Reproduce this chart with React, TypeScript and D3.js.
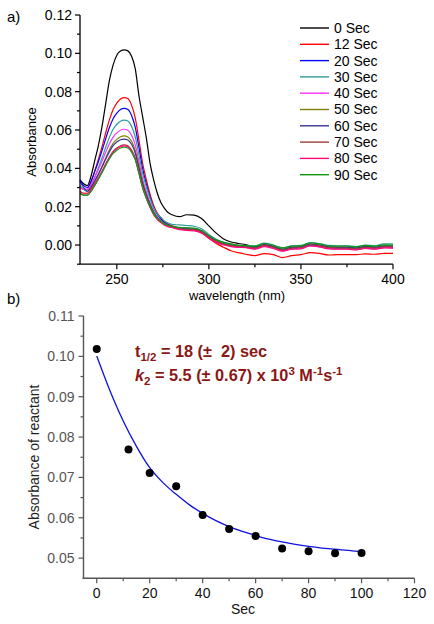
import React from "react";
import * as d3 from "d3";

// ---------- Panel a) UV-vis spectra ----------
const wavelengths = [230,232,234,236,238,240,242,244,246,248,250,252,254,256,258,260,262,264,266,268,270,272,274,276,278,280,284,288,292,296,300,304,308,312,316,320,325,330,335,340,345,350,355,360,365,370,375,380,385,390,395,400];

const sec0 = [.034,.032,.031,.036,.044,.052,.062,.074,.086,.094,.099,.1012,.1018,.1013,.0985,.092,.078,.067,.056,.043,.034,.027,.022,.019,.0168,.0158,.0148,.0158,.0156,.0138,.0100,.0062,.0032,.0016,.0008,.0002,-.0010,.0000,-.0008,-.0022,-.0012,-.0010,.0004,-.0002,-.0010,-.0012,-.0014,-.0016,-.0008,-.0012,-.0006,-.0006];
const sec12 = [.030,.029,.029,.0328,.0386,.0448,.0515,.0587,.0654,.0707,.0740,.0762,.0769,.0764,.0730,.0663,.0549,.0428,.0341,.0267,.0207,.0167,.0143,.0120,.0108,.0100,.0088,.0082,.0078,.0065,.0035,.0008,-.0012,-.0030,-.0040,-.0048,-.0055,-.0045,-.0050,-.0066,-.0055,-.0050,-.0040,-.0044,-.0052,-.0050,-.0050,-.0050,-.0046,-.0048,-.0044,-.0044];
const sec20 = [.034,.031,.030,.0333,.0383,.0436,.0494,.0556,.0614,.0659,.0688,.0707,.0713,.0707,.0676,.0615,.0510,.0399,.0319,.0252,.0196,.0160,.0137,.0116,.0105,.0098,.0090,.0088,.0086,.0074,.0045,.0022,.0008,.0000,-.0008,-.0010,-.0018,-.0006,-.0014,-.0028,-.0018,-.0016,-.0002,-.0008,-.0016,-.0018,-.0018,-.0022,-.0014,-.0018,-.0012,-.0014];
const sec30 = [.031,.029,.028,.0310,.0354,.0403,.0455,.0511,.0563,.0604,.0630,.0646,.0652,.0647,.0619,.0565,.0472,.0375,.0304,.0244,.0195,.0162,.0143,.0124,.0115,.0108,.0105,.0102,.0098,.0085,.0055,.0030,.0015,.0006,.0000,-.0002,-.0004,.0010,.0000,-.0014,-.0004,-.0002,.0013,.0008,-.0002,-.0004,-.0004,-.0008,.0000,-.0004,.0006,.0006];
const sec40 = [.030,.029,.029,.0315,.0353,.0394,.0438,.0485,.0529,.0563,.0585,.0599,.0604,.0599,.0573,.0523,.0436,.0344,.0278,.0222,.0176,.0146,.0128,.0110,.0101,.0095,.0086,.0082,.0080,.0068,.0040,.0018,.0004,-.0004,-.0010,-.0012,-.0020,-.0006,-.0016,-.0030,-.0020,-.0018,-.0003,-.0008,-.0018,-.0020,-.0020,-.0024,-.0016,-.0020,-.0013,-.0014];
const sec50 = [.028,.027,.027,.0294,.0330,.0369,.0411,.0455,.0497,.0530,.0551,.0565,.0569,.0564,.0541,.0493,.0413,.0328,.0267,.0215,.0173,.0144,.0127,.0111,.0103,.0097,.0090,.0087,.0085,.0073,.0046,.0024,.0010,.0002,-.0004,-.0006,-.0014,.0000,-.0010,-.0024,-.0014,-.0012,.0003,-.0002,-.0012,-.0014,-.0014,-.0018,-.0010,-.0014,-.0007,-.0008];
const sec60 = [.033,.030,.028,.0302,.0335,.0370,.0408,.0449,.0487,.0518,.0537,.0549,.0553,.0548,.0526,.0480,.0402,.0320,.0261,.0210,.0169,.0142,.0125,.0110,.0101,.0096,.0088,.0085,.0083,.0071,.0044,.0022,.0008,.0000,-.0006,-.0008,-.0012,.0002,-.0008,-.0022,-.0012,-.0010,.0005,.0000,-.0010,-.0012,-.0012,-.0016,-.0008,-.0012,-.0005,-.0006];
const sec70 = [.027,.026,.026,.0281,.0312,.0346,.0383,.0422,.0459,.0488,.0506,.0518,.0522,.0518,.0496,.0454,.0381,.0304,.0248,.0201,.0162,.0137,.0121,.0107,.0099,.0094,.0085,.0082,.0080,.0068,.0041,.0019,.0005,-.0003,-.0008,-.0010,-.0016,-.0002,-.0012,-.0026,-.0016,-.0014,.0001,-.0004,-.0014,-.0016,-.0016,-.0020,-.0012,-.0016,-.0009,-.0010];
const sec80 = [.028,.027,.027,.0290,.0319,.0352,.0386,.0423,.0458,.0485,.0502,.0513,.0517,.0513,.0491,.0449,.0376,.0299,.0244,.0197,.0158,.0133,.0117,.0103,.0095,.0090,.0080,.0076,.0074,.0062,.0036,.0014,.0000,-.0008,-.0012,-.0014,-.0022,-.0008,-.0018,-.0032,-.0022,-.0020,-.0005,-.0010,-.0020,-.0022,-.0022,-.0026,-.0018,-.0022,-.0015,-.0016];
const sec90 = [.027,.026,.026,.0280,.0310,.0343,.0378,.0415,.0450,.0478,.0495,.0506,.0510,.0506,.0485,.0444,.0374,.0300,.0246,.0201,.0164,.0139,.0124,.0110,.0103,.0098,.0092,.0090,.0088,.0076,.0050,.0027,.0013,.0005,-.0001,-.0003,-.0006,.0008,-.0002,-.0016,-.0006,-.0004,.0011,.0006,-.0004,-.0006,-.0006,-.0010,-.0002,-.0006,.0001,.0000];

const seriesNames = ["0 Sec","12 Sec","20 Sec","30 Sec","40 Sec","50 Sec","60 Sec","70 Sec","80 Sec","90 Sec"];
const seriesColors = ["#000000","#ff0000","#0000ff","#2f9e9a","#ff33ff","#808000","#34349a","#a03c3c","#ff0a78","#119a11"];
const seriesValues = [sec0,sec12,sec20,sec30,sec40,sec50,sec60,sec70,sec80,sec90];

const aXTicks = [250,300,350,400];
const aXMinor = [275,325,375];
const aYTicks = [0,0.02,0.04,0.06,0.08,0.10,0.12];
const aYMinor = [-0.01,0.01,0.03,0.05,0.07,0.09,0.11];

// ---------- Panel b) kinetics ----------
const timeSec = [0,12,20,30,40,50,60,70,80,90,100];
const absReactant = [0.1018,0.0769,0.0711,0.0678,0.0607,0.0572,0.0555,0.0524,0.0517,0.0512,0.0513];
const fitTime = [0,5,10,15,20,25,30,35,40,45,50,55,60,65,70,75,80,85,90,95,100];
const fitAbs = [0.1001,0.0915,0.0840,0.0777,0.0724,0.0687,0.0658,0.0632,0.0611,0.0593,0.0578,0.0566,0.0556,0.0547,0.0540,0.0534,0.0529,0.0525,0.0522,0.0519,0.0516];

const bXTicks = [0,20,40,60,80,100,120];
const bXMinor = [10,30,50,70,90,110];
const bYTicks = [0.05,0.06,0.07,0.08,0.09,0.10,0.11];
const bYMinor = [0.055,0.065,0.075,0.085,0.095,0.105];

const FONT = "'Liberation Sans', Arial, Helvetica, sans-serif";
const DARKRED = "#8b1616";
const NBSP = "\u00a0";

export default function App() {
  // panel a scales
  const ax = d3.scaleLinear().domain([230, 400]).range([80, 393]);
  const ay = d3.scaleLinear().domain([-0.01, 0.12]).range([264.2, 15]);
  const aLine = d3.line<number>()
    .x((_, i) => ax(wavelengths[i]))
    .y((d) => ay(d))
    .curve(d3.curveMonotoneX);

  // panel b scales
  const bx = d3.scaleLinear().domain([-5, 120]).range([83.5, 414.5]);
  const by = d3.scaleLinear().domain([0.045, 0.11]).range([578.3, 316]);
  const fitLine = d3.line<number>()
    .x((_, i) => bx(fitTime[i]))
    .y((d) => by(d))
    .curve(d3.curveMonotoneX);

  const aAxisColor = "#000";
  const bAxisColor = "#555";

  return (
    <svg width={434} height={624} style={{ position: "absolute", left: 0, top: 0, background: "#fff" }} fontFamily={FONT}>
      <rect x={0} y={0} width={434} height={624} fill="#fff" />

      {/* ---------- Panel a ---------- */}
      <text x={7} y={22} fontSize={15} fill="#000">a)</text>
      {seriesValues.map((vals, si) => (
        <path key={si} d={aLine(vals) || ""} fill="none" stroke={seriesColors[si]} strokeWidth={1.2} />
      ))}
      {/* axes */}
      <line x1={ax(230)} x2={ax(230)} y1={ay(0.12)} y2={ay(-0.01)} stroke={aAxisColor} strokeWidth={1.3} />
      <line x1={ax(230)} x2={ax(400)} y1={ay(-0.01)} y2={ay(-0.01)} stroke={aAxisColor} strokeWidth={1.3} />
      {aYTicks.map((t) => (
        <g key={"ay" + t}>
          <line x1={ax(230) - 5} x2={ax(230)} y1={ay(t)} y2={ay(t)} stroke={aAxisColor} strokeWidth={1.2} />
          <text x={ax(230) - 8} y={ay(t)} dy="0.35em" textAnchor="end" fontSize={14} fill="#000">{t.toFixed(2)}</text>
        </g>
      ))}
      {aYMinor.map((t) => (
        <line key={"aym" + t} x1={ax(230) - 3} x2={ax(230)} y1={ay(t)} y2={ay(t)} stroke={aAxisColor} strokeWidth={1.2} />
      ))}
      {aXTicks.map((t) => (
        <g key={"ax" + t}>
          <line x1={ax(t)} x2={ax(t)} y1={ay(-0.01)} y2={ay(-0.01) + 5} stroke={aAxisColor} strokeWidth={1.2} />
          <text x={ax(t)} y={ay(-0.01) + 20} textAnchor="middle" fontSize={14} fill="#000">{t}</text>
        </g>
      ))}
      {aXMinor.map((t) => (
        <line key={"axm" + t} x1={ax(t)} x2={ax(t)} y1={ay(-0.01)} y2={ay(-0.01) + 3} stroke={aAxisColor} strokeWidth={1.2} />
      ))}
      <text x={237} y={300} textAnchor="middle" fontSize={13} fill="#000">wavelength (nm)</text>
      <text transform="translate(36,142) rotate(-90)" textAnchor="middle" fontSize={13} fill="#000">Absorbance</text>

      {/* legend */}
      {seriesNames.map((n, i) => {
        const y = 28 + i * 16.3;
        return (
          <g key={"lg" + n}>
            <line x1={300} x2={329} y1={y} y2={y} stroke={seriesColors[i]} strokeWidth={1.4} />
            <text x={334} y={y} dy="0.35em" fontSize={14} fill="#000">{n}</text>
          </g>
        );
      })}

      {/* ---------- Panel b ---------- */}
      <text x={7} y={304} fontSize={15} fill="#000">b)</text>
      <path d={fitLine(fitAbs) || ""} fill="none" stroke="#1010e0" strokeWidth={1.3} />
      {timeSec.map((t, i) => (
        <circle key={"pt" + t} cx={bx(t)} cy={by(absReactant[i])} r={4} fill="#000" />
      ))}
      <line x1={bx(-5)} x2={bx(-5)} y1={by(0.11)} y2={by(0.045)} stroke={bAxisColor} strokeWidth={1.4} />
      <line x1={bx(-5) - 1} x2={bx(120)} y1={by(0.045)} y2={by(0.045)} stroke={bAxisColor} strokeWidth={1.4} />
      {bYTicks.map((t) => (
        <g key={"by" + t}>
          <line x1={bx(-5) - 5} x2={bx(-5)} y1={by(t)} y2={by(t)} stroke={bAxisColor} strokeWidth={1.2} />
          <text x={bx(-5) - 9} y={by(t)} dy="0.35em" textAnchor="end" fontSize={14} fill="#555">{t.toFixed(2)}</text>
        </g>
      ))}
      {bYMinor.map((t) => (
        <line key={"bym" + t} x1={bx(-5) - 3} x2={bx(-5)} y1={by(t)} y2={by(t)} stroke={bAxisColor} strokeWidth={1.2} />
      ))}
      {bXTicks.map((t) => (
        <g key={"bx" + t}>
          <line x1={bx(t)} x2={bx(t)} y1={by(0.045)} y2={by(0.045) + 5} stroke={bAxisColor} strokeWidth={1.2} />
          <text x={bx(t)} y={by(0.045) + 20} textAnchor="middle" fontSize={14} fill="#111">{t}</text>
        </g>
      ))}
      {bXMinor.map((t) => (
        <line key={"bxm" + t} x1={bx(t)} x2={bx(t)} y1={by(0.045)} y2={by(0.045) + 3} stroke={bAxisColor} strokeWidth={1.2} />
      ))}
      <text x={243} y={614} textAnchor="middle" fontSize={14} fill="#111">Sec</text>
      <text transform="translate(39,457) rotate(-90)" textAnchor="middle" fontSize={14} fill="#222">Absorbance of reactant</text>

      {/* annotation */}
      <text x={135} y={357} fontSize={16.3} fontWeight="bold" fill={DARKRED}>
        <tspan>t</tspan>
        <tspan fontSize={11.5} dy={4}>1/2</tspan>
        <tspan dy={-4}>{" = 18 (±" + NBSP + " 2) sec"}</tspan>
      </text>
      <text x={135} y={381} fontSize={16.3} fontWeight="bold" fill={DARKRED}>
        <tspan fontStyle="italic">k</tspan>
        <tspan fontSize={11.5} dy={4}>2</tspan>
        <tspan dy={-4}>{" = 5.5 (± 0.67) x 10"}</tspan>
        <tspan fontSize={11.5} dy={-6}>3</tspan>
        <tspan dy={6}>{" M"}</tspan>
        <tspan fontSize={11.5} dy={-6}>-1</tspan>
        <tspan dy={6}>s</tspan>
        <tspan fontSize={11.5} dy={-6}>-1</tspan>
      </text>
    </svg>
  );
}
